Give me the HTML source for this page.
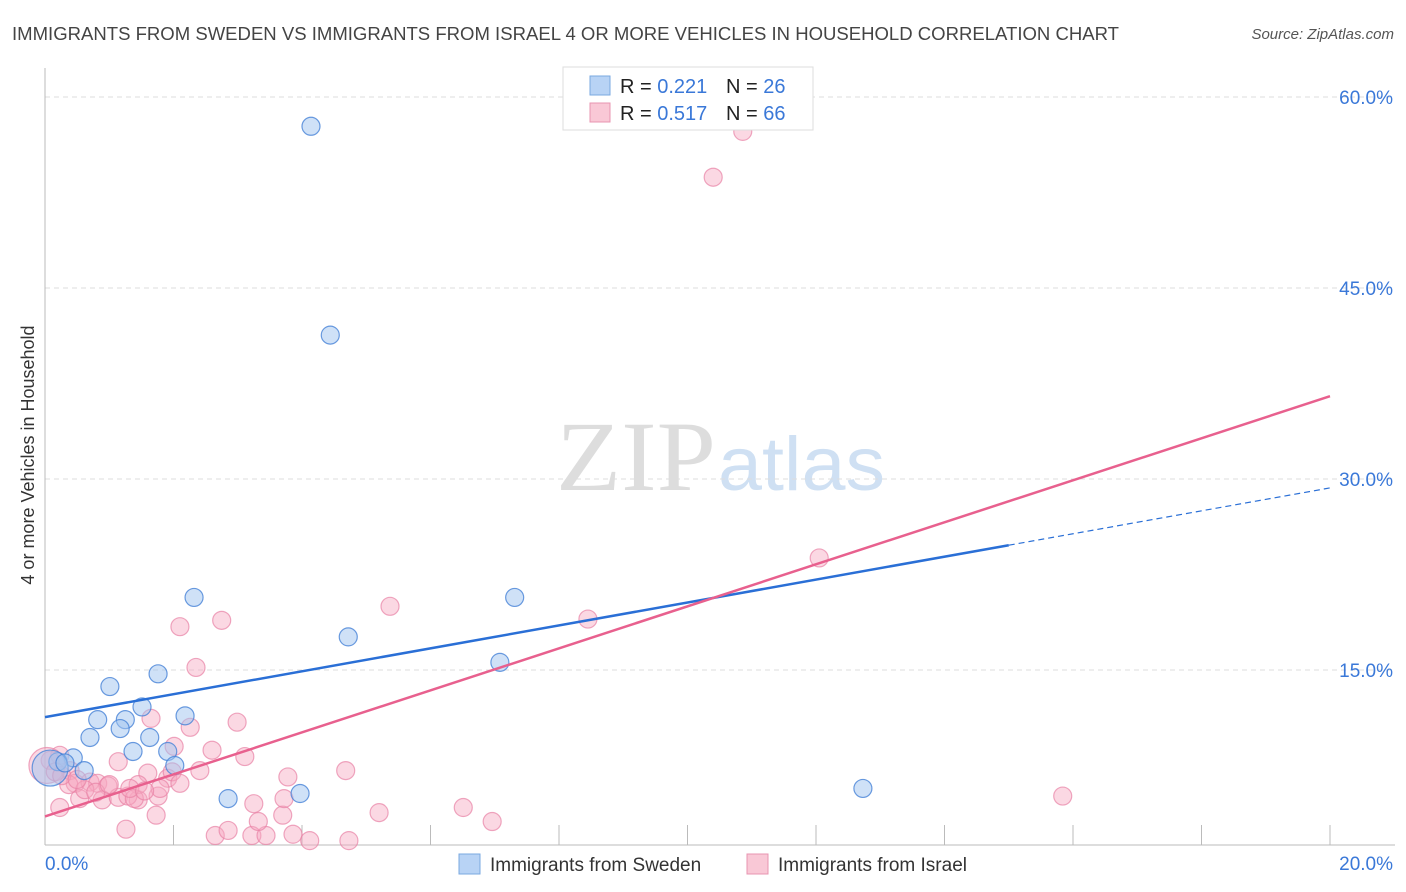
<!DOCTYPE html>
<html><head><meta charset="utf-8"><style>
body{margin:0;background:#fff;font-family:"Liberation Sans",sans-serif;}
svg{display:block}
</style></head><body>
<svg id="chart" width="1406" height="892">
<text x="12" y="40" font-size="18" fill="#444" textLength="1107" lengthAdjust="spacingAndGlyphs">IMMIGRANTS FROM SWEDEN VS IMMIGRANTS FROM ISRAEL 4 OR MORE VEHICLES IN HOUSEHOLD CORRELATION CHART</text>
<text x="1394" y="39" font-size="15" fill="#555" font-style="italic" text-anchor="end">Source: ZipAtlas.com</text>
<text x="716" y="490" font-size="100" fill="#ddd" font-family="Liberation Serif,serif" text-anchor="end" textLength="160" lengthAdjust="spacingAndGlyphs">ZIP</text>
<text x="718" y="490" font-size="76" fill="#cfe0f3" textLength="167" lengthAdjust="spacingAndGlyphs">atlas</text>
<g id="grid"></g><g id="pts"></g><g id="lines"></g>
<text transform="translate(34,455) rotate(-90)" font-size="18" fill="#333" text-anchor="middle">4 or more Vehicles in Household</text>
<g>
<rect x="563" y="67" width="250" height="63" fill="#fff" stroke="#ddd"/>
<rect x="590" y="76" width="20" height="19" fill="#b8d3f5" stroke="#7aa8e0"/>
<rect x="590" y="103" width="20" height="19" fill="#f9c8d6" stroke="#e894b0"/>
<text x="620" y="93" font-size="20" fill="#222">R = <tspan fill="#3a78d8">0.221</tspan><tspan x="726">N = </tspan><tspan fill="#3a78d8">26</tspan></text>
<text x="620" y="120" font-size="20" fill="#222">R = <tspan fill="#3a78d8">0.517</tspan><tspan x="726">N = </tspan><tspan fill="#3a78d8">66</tspan></text>
</g>
<g>
<rect x="459" y="854" width="21" height="20" fill="#b8d3f5" stroke="#7aa8e0"/>
<text x="490" y="871" font-size="19" fill="#333">Immigrants from Sweden</text>
<rect x="747" y="854" width="21" height="20" fill="#f9c8d6" stroke="#e894b0"/>
<text x="778" y="871" font-size="19" fill="#333">Immigrants from Israel</text>
</g>
</svg>
<script>
const xTicks=[0,2,4,6,8,10,12,14,16,18,20];
const yTicks=[15,30,45,60];
const swedenX=[4.14,4.44,2.32,7.31,4.72,1.76,1.01,7.08,1.51,2.18,0.82,1.25,1.17,0.70,1.63,1.37,1.91,0.44,0.20,0.61,2.02,2.85,3.97,12.73,0.08,0.31];
const swedenY=[57.7,41.3,20.7,20.7,17.6,14.7,13.7,15.6,12.1,11.4,11.1,11.1,10.4,9.7,9.7,8.6,8.6,8.1,7.8,7.1,7.5,4.9,5.3,5.7,7.3,7.7];
const israelX=[10.86,10.40,12.05,5.37,8.45,2.10,2.75,2.35,1.65,2.26,2.99,2.01,2.60,3.11,1.14,1.60,1.91,2.41,4.68,3.78,15.84,6.51,5.20,6.96,0.23,1.26,1.73,2.65,2.85,3.22,3.44,3.86,4.12,4.73,3.70,3.32,3.72,3.25,0.23,0.08,0.39,0.47,0.70,0.82,0.98,0.54,0.89,1.14,1.45,1.76,1.98,1.45,1.79,1.29,1.39,0.37,0.03,0.16,0.26,0.62,0.79,1.32,2.10,1.00,1.55,0.50];
const israelY=[57.3,53.7,23.8,20.0,19.0,18.4,18.9,15.2,11.2,10.5,10.9,9.0,8.7,8.2,7.8,6.9,6.5,7.1,7.1,6.6,5.1,4.2,3.8,3.1,4.2,2.5,3.6,2.0,2.4,2.0,2.0,2.1,1.6,1.6,3.6,3.1,4.9,4.5,8.3,7.9,7.1,6.1,6.2,6.1,5.9,4.9,4.8,5.0,4.8,5.1,7.0,6.0,5.7,5.1,4.9,6.0,7.5,7.0,6.7,5.6,5.4,5.7,6.1,6.0,5.5,6.4];
const swedenTrend=[11.3,0.9];   // intercept, slope
const israelTrend=[3.5,1.65];
const X=v=>45+v/20*1285, Y=v=>861-v/15*191;
const NS="http://www.w3.org/2000/svg";
function mk(tag,attrs,parent){const e=document.createElementNS(NS,tag);for(const k in attrs)e.setAttribute(k,attrs[k]);document.getElementById(parent).appendChild(e);return e;}
yTicks.forEach(t=>{
 const l=mk('line',{x1:45,x2:1395,y1:Y(t),y2:Y(t),stroke:'#ddd','stroke-dasharray':'5,4'},'grid');
 
 
 const tx=mk('text',{x:1393,y:Y(t)+7,'font-size':19,fill:'#3a78d8','text-anchor':'end'},'grid');
 tx.textContent=t.toFixed(1)+'%';
 
 
});
const ax=mk('line',{x1:45,x2:1395,y1:845,y2:845,stroke:'#bbb'},'grid');


const ay=mk('line',{x1:45,x2:45,y1:68,y2:845,stroke:'#bbb'},'grid');


xTicks.forEach(t=>{
 const l=mk('line',{x1:X(t),x2:X(t),y1:825,y2:845,stroke:'#bbb'},'grid');
 
 
});
[[0,'start',45],[20,'end',1393]].forEach(([t,a,x])=>{
 const tx=mk('text',{x:x,y:870,'font-size':19,fill:'#3a78d8','text-anchor':a},'grid');
 tx.textContent=t.toFixed(1)+'%';
 
 
});
israelX.forEach((v,i)=>{
 const c=mk('circle',{cx:X(v),cy:Y(israelY[i]),r:i==56?18:9,fill:'rgba(246,168,192,0.45)',stroke:'rgba(232,130,165,0.7)','stroke-width':1.2},'pts');
 
 
});
swedenX.forEach((v,i)=>{
 const c=mk('circle',{cx:X(v),cy:Y(swedenY[i]),r:i==24?18:9,fill:'rgba(160,196,240,0.5)',stroke:'rgba(70,130,215,0.8)','stroke-width':1.2},'pts');
 
 
});
const f=(tr,x)=>tr[0]+tr[1]*x;
const b1=mk('line',{x1:X(0),y1:Y(f(swedenTrend,0)),x2:X(15),y2:Y(f(swedenTrend,15)),stroke:'#2a6fd6','stroke-width':2.5},'lines');


const b2=mk('line',{x1:X(15),y1:Y(f(swedenTrend,15)),x2:X(20),y2:Y(f(swedenTrend,20)),stroke:'#2a6fd6','stroke-width':1.2,'stroke-dasharray':'6,4'},'lines');


const p1=mk('line',{x1:X(0),y1:Y(f(israelTrend,0)),x2:X(20),y2:Y(f(israelTrend,20)),stroke:'#e8608e','stroke-width':2.5},'lines');


</script>
</body></html>
